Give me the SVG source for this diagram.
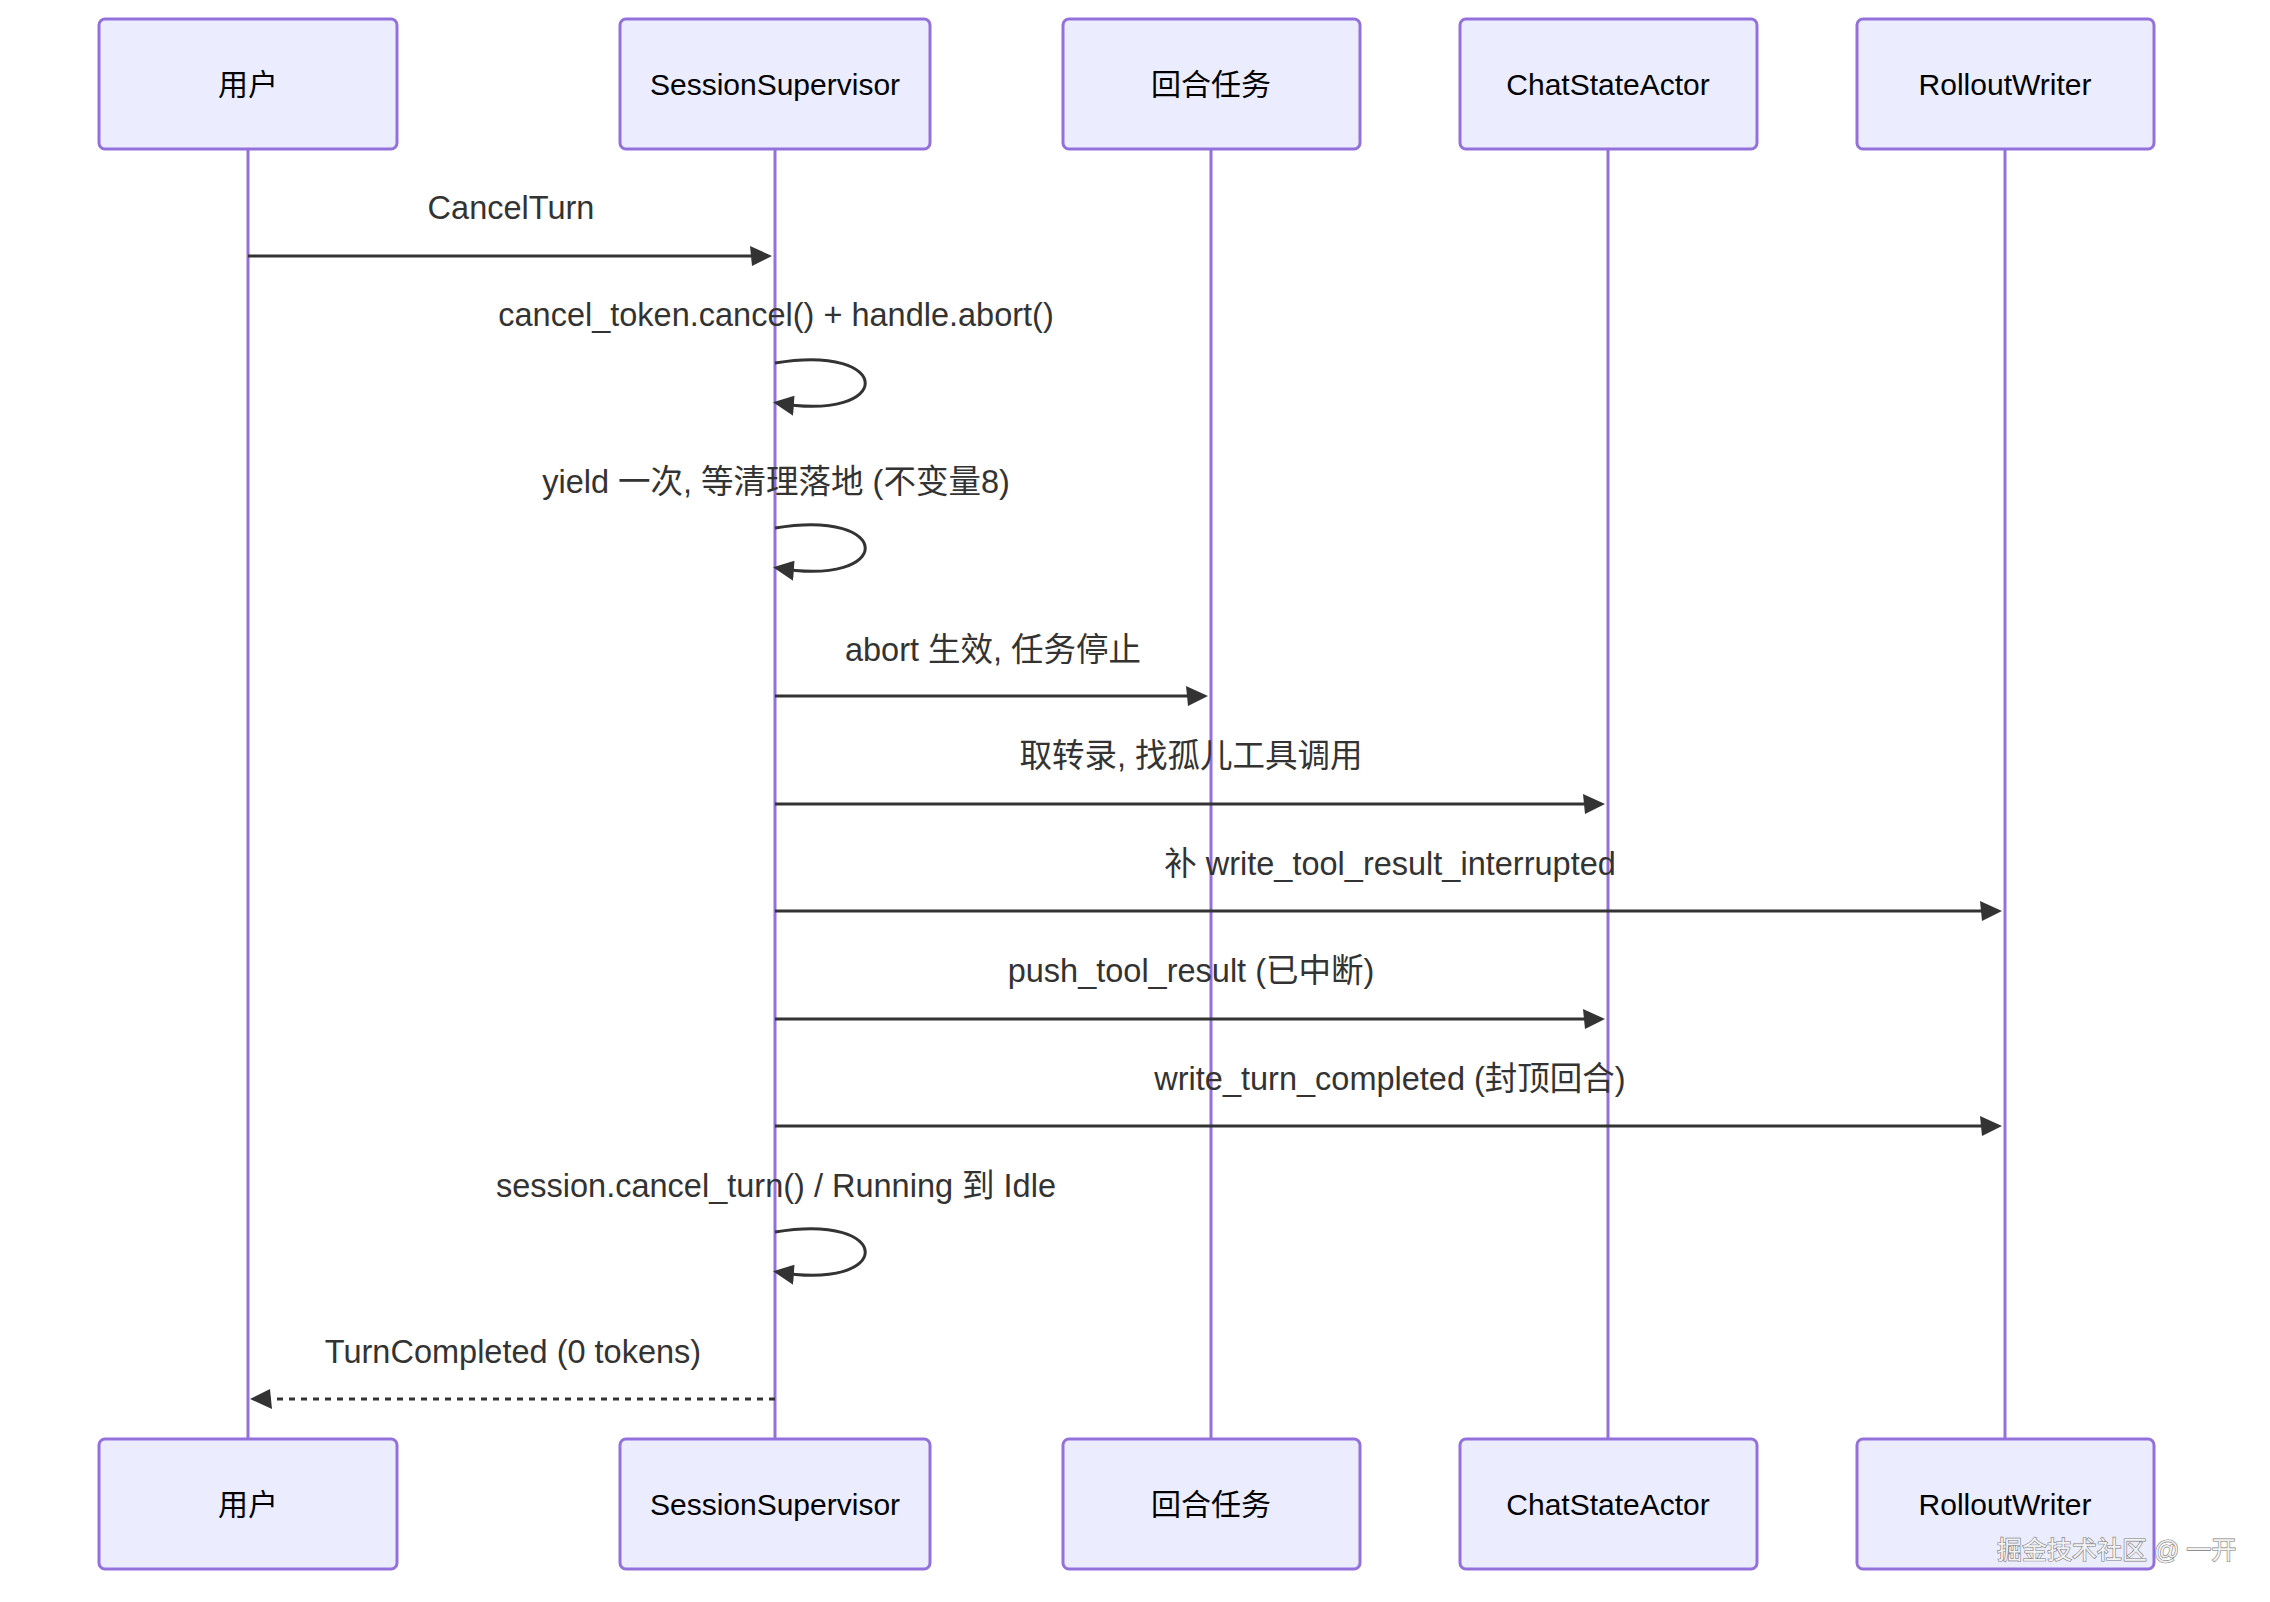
<svg xmlns="http://www.w3.org/2000/svg" width="2270" height="1602" viewBox="0 0 2270 1602">
<style>
.actor{fill:#ECECFF;stroke:#9370DB;stroke-width:3}
.atext{font-family:"Liberation Sans","Noto Sans CJK SC",sans-serif;font-size:30px;fill:#000;text-anchor:middle;dominant-baseline:central}
.life{stroke:#9370DB;stroke-width:3}
.msg{stroke:#333;stroke-width:3;fill:none}
.dot{stroke-dasharray:6,6}
.mtext{font-family:"Liberation Sans","Noto Sans CJK SC",sans-serif;font-size:32.5px;fill:#333;text-anchor:middle;dominant-baseline:central}
.wm{font-family:"Liberation Sans","Noto Sans CJK SC",sans-serif;font-size:25px;fill:#f2f2f2;stroke:#7a7a7a;stroke-width:1.2;paint-order:stroke;dominant-baseline:central}
</style>
<defs>
<marker id="arrowhead" markerUnits="userSpaceOnUse" markerWidth="24" markerHeight="24" refX="16" refY="10" orient="auto" viewBox="-2 0 24 20">
<path d="M -2 0 L 20 10 L 0 20 z" fill="#333"/>
</marker>
</defs>
<rect width="2270" height="1602" fill="#fff"/>
<g id="lifelines">
<line class="life" x1="248" y1="149" x2="248" y2="1439"/>
<line class="life" x1="775" y1="149" x2="775" y2="1439"/>
<line class="life" x1="1211" y1="149" x2="1211" y2="1439"/>
<line class="life" x1="1608" y1="149" x2="1608" y2="1439"/>
<line class="life" x1="2005" y1="149" x2="2005" y2="1439"/>
</g>
<g id="actor-user-top"><rect class="actor" x="99" y="19" width="298" height="130" rx="6"/><text class="atext" x="248" y="84">用户</text></g>
<g id="actor-supervisor-top"><rect class="actor" x="620" y="19" width="310" height="130" rx="6"/><text class="atext" x="775" y="84">SessionSupervisor</text></g>
<g id="actor-task-top"><rect class="actor" x="1063" y="19" width="297" height="130" rx="6"/><text class="atext" x="1211" y="84">回合任务</text></g>
<g id="actor-chat-top"><rect class="actor" x="1460" y="19" width="297" height="130" rx="6"/><text class="atext" x="1608" y="84">ChatStateActor</text></g>
<g id="actor-rollout-top"><rect class="actor" x="1857" y="19" width="297" height="130" rx="6"/><text class="atext" x="2005" y="84">RolloutWriter</text></g>
<g id="actor-user-bottom"><rect class="actor" x="99" y="1439" width="298" height="130" rx="6"/><text class="atext" x="248" y="1504">用户</text></g>
<g id="actor-supervisor-bottom"><rect class="actor" x="620" y="1439" width="310" height="130" rx="6"/><text class="atext" x="775" y="1504">SessionSupervisor</text></g>
<g id="actor-task-bottom"><rect class="actor" x="1063" y="1439" width="297" height="130" rx="6"/><text class="atext" x="1211" y="1504">回合任务</text></g>
<g id="actor-chat-bottom"><rect class="actor" x="1460" y="1439" width="297" height="130" rx="6"/><text class="atext" x="1608" y="1504">ChatStateActor</text></g>
<g id="actor-rollout-bottom"><rect class="actor" x="1857" y="1439" width="297" height="130" rx="6"/><text class="atext" x="2005" y="1504">RolloutWriter</text></g>
<g id="connectors">
<text class="mtext" x="511" y="208">CancelTurn</text>
<line class="msg" x1="248" y1="256" x2="768" y2="256" marker-end="url(#arrowhead)"/>
<text class="mtext" x="776" y="315">cancel_token.cancel() + handle.abort()</text>
<path class="msg" d="M 775,363 C 895,343 895,423 777,403" marker-end="url(#arrowhead)"/>
<text class="mtext" x="776" y="482">yield 一次, 等清理落地 (不变量8)</text>
<path class="msg" d="M 775,528 C 895,508 895,588 777,568" marker-end="url(#arrowhead)"/>
<text class="mtext" x="993" y="650">abort 生效, 任务停止</text>
<line class="msg" x1="775" y1="696" x2="1204" y2="696" marker-end="url(#arrowhead)"/>
<text class="mtext" x="1191" y="756">取转录, 找孤儿工具调用</text>
<line class="msg" x1="775" y1="804" x2="1601" y2="804" marker-end="url(#arrowhead)"/>
<text class="mtext" x="1390" y="864">补 write_tool_result_interrupted</text>
<line class="msg" x1="775" y1="911" x2="1998" y2="911" marker-end="url(#arrowhead)"/>
<text class="mtext" x="1191" y="971">push_tool_result (已中断)</text>
<line class="msg" x1="775" y1="1019" x2="1601" y2="1019" marker-end="url(#arrowhead)"/>
<text class="mtext" x="1390" y="1079">write_turn_completed (封顶回合)</text>
<line class="msg" x1="775" y1="1126" x2="1998" y2="1126" marker-end="url(#arrowhead)"/>
<text class="mtext" x="776" y="1186">session.cancel_turn() / Running 到 Idle</text>
<path class="msg" d="M 775,1232 C 895,1212 895,1292 777,1272" marker-end="url(#arrowhead)"/>
<text class="mtext" x="513" y="1352">TurnCompleted (0 tokens)</text>
<line class="msg dot" x1="775" y1="1399" x2="254" y2="1399" marker-end="url(#arrowhead)"/>
</g>
<text class="wm" x="1997" y="1550">掘金技术社区 @ 一开</text>
</svg>
